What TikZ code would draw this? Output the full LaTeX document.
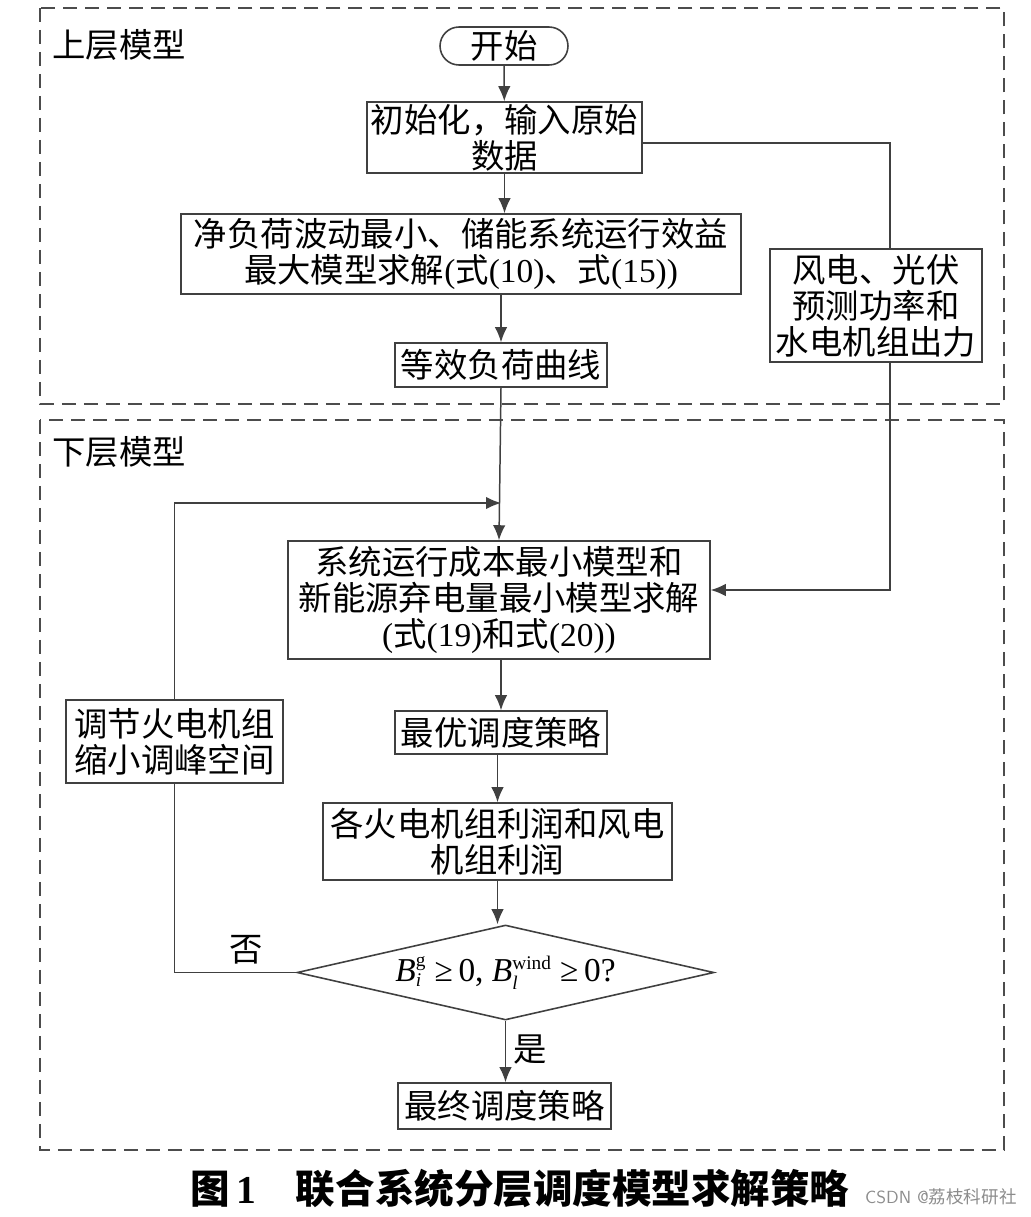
\documentclass[tikz,border=0pt]{standalone}
\usepackage{fontspec}
\setmainfont{Liberation Serif}
\newfontfamily\cjk{Noto Sans CJK SC}
\usepackage{tikz}
\usetikzlibrary{arrows.meta,positioning,shapes.misc,shapes.geometric}
\newcommand{\zh}[1]{{\cjk #1}}
\newcommand{\bval}[2]{$\mbox{\itshape B}_{\mbox{\fontsize{11}{11}\selectfont\itshape #1}}^{\mbox{\fontsize{11}{11}\selectfont #2}}$}

\begin{document}
\begin{tikzpicture}[x=0.02cm,y=-0.02cm,
 box/.style={draw=black!75,line width=0.9pt,align=center,inner sep=0pt,
  font=\cjk\fontsize{19}{20.5}\selectfont},
 term/.style={box,rounded rectangle},
 test/.style={box,diamond,aspect=4.4,font=\fontsize{19}{20.5}\selectfont},
 layer/.style={draw=black!70,line width=0.9pt,dash pattern=on 0.28cm off 0.16cm},
 lbl/.style={inner sep=0pt,font=\cjk\fontsize{19}{20.5}\selectfont},
 arr/.style={-{Latex[length=0.3cm,width=0.25cm]},draw=black!75,line width=0.85pt},
 wire/.style={draw=black!75,line width=0.85pt}]
\useasboundingbox (0,0) rectangle (1031,1217);
% layers
\draw[layer] (40,8) rectangle (1004,404);
\draw[layer] (40,420) rectangle (1004,1150);
\node[lbl,anchor=west] (upper) at (52,45) {上层模型};
\node[lbl,anchor=west] (lower) at (52,452) {下层模型};
% upper model
\node[term,minimum width=2.56cm,minimum height=0.76cm] (start) at (504,46) {开始};
\node[box,minimum width=5.5cm,minimum height=1.42cm] (init) at (504.5,137.5) {初始化，输入原始\\数据};
\node[box,minimum width=11.2cm,minimum height=1.6cm] (net) at (461,254)
 {净负荷波动最小、储能系统运行效益\\最大模型求解{\rmfamily(}式{\rmfamily(10)}、式{\rmfamily(15))}};
\node[box,minimum width=4.24cm,minimum height=0.88cm] (equiv) at (501,365) {等效负荷曲线};
\node[box,minimum width=4.24cm,minimum height=2.26cm] (fore) at (876,305.5) {风电、光伏\\预测功率和\\水电机组出力};
% lower model
\node[box,minimum width=8.44cm,minimum height=2.36cm] (sys) at (499,600)
 {系统运行成本最小模型和\\新能源弃电量最小模型求解\\{\rmfamily(}式{\rmfamily(19)}和式{\rmfamily(20))}};
\node[box,minimum width=4.24cm,minimum height=0.86cm] (opt) at (501,732.5) {最优调度策略};
\node[box,minimum width=6.98cm,minimum height=1.54cm] (profit) at (497.5,841.5) {各火电机组利润和风电\\机组利润};
\node[box,minimum width=4.34cm,minimum height=1.66cm] (adj) at (174.5,741.5) {调节火电机组\\缩小调峰空间};
\node[test,minimum width=8.34cm,minimum height=1.9cm] (check) at (505.5,972.5)
 {\bval{i}{g}\ ≥\,0, \bval{l}{wind}\ ≥\,0?};
\node[box,minimum width=4.26cm,minimum height=0.92cm] (final) at (504.5,1106) {最终调度策略};
\node[lbl] (no) at (246,950) {否};
\node[lbl] (yes) at (530,1050) {是};
% connectors
\coordinate (rt) at (890,143);
\coordinate (rb) at (890,590);
\coordinate (jn) at (501,503);
\draw[arr] (start) -- (init);
\draw[arr] (init.south) -- (init.south |- net.north);
\draw[arr] (net.south -| equiv.north) -- (equiv.north);
\draw[wire] (init.east |- rt) -- (rt) -- (rt |- fore.north);
\draw[arr] (rt |- fore.south) -- (rb) -- (rb -| sys.east);
\draw[arr] (equiv.south) -- (sys.north);
\draw[arr] (sys.south -| opt.north) -- (opt.north);
\draw[arr] (opt.south -| profit.north) -- (profit.north);
\draw[arr] (profit.south) -- (profit.south |- check.north);
\draw[arr] (check.south) -- (check.south |- final.north);
\draw[wire] (check.west) -| (adj.south);
\draw[arr] (adj.north) |- (jn);
% caption
\node[inner sep=0pt,font=\cjk\bfseries\fontsize{22.5}{26}\selectfont] (cap) at (520,1188)
 {图\,{\rmfamily 1}\hspace{1em}联合系统分层调度模型求解策略};
\node[inner sep=0pt,anchor=east,text=black!45,font=\fontsize{10}{12}\selectfont] (mark) at (1017,1197)
 {\sffamily CSDN @\zh{荔枝科研社}};
\end{tikzpicture}
\end{document}
